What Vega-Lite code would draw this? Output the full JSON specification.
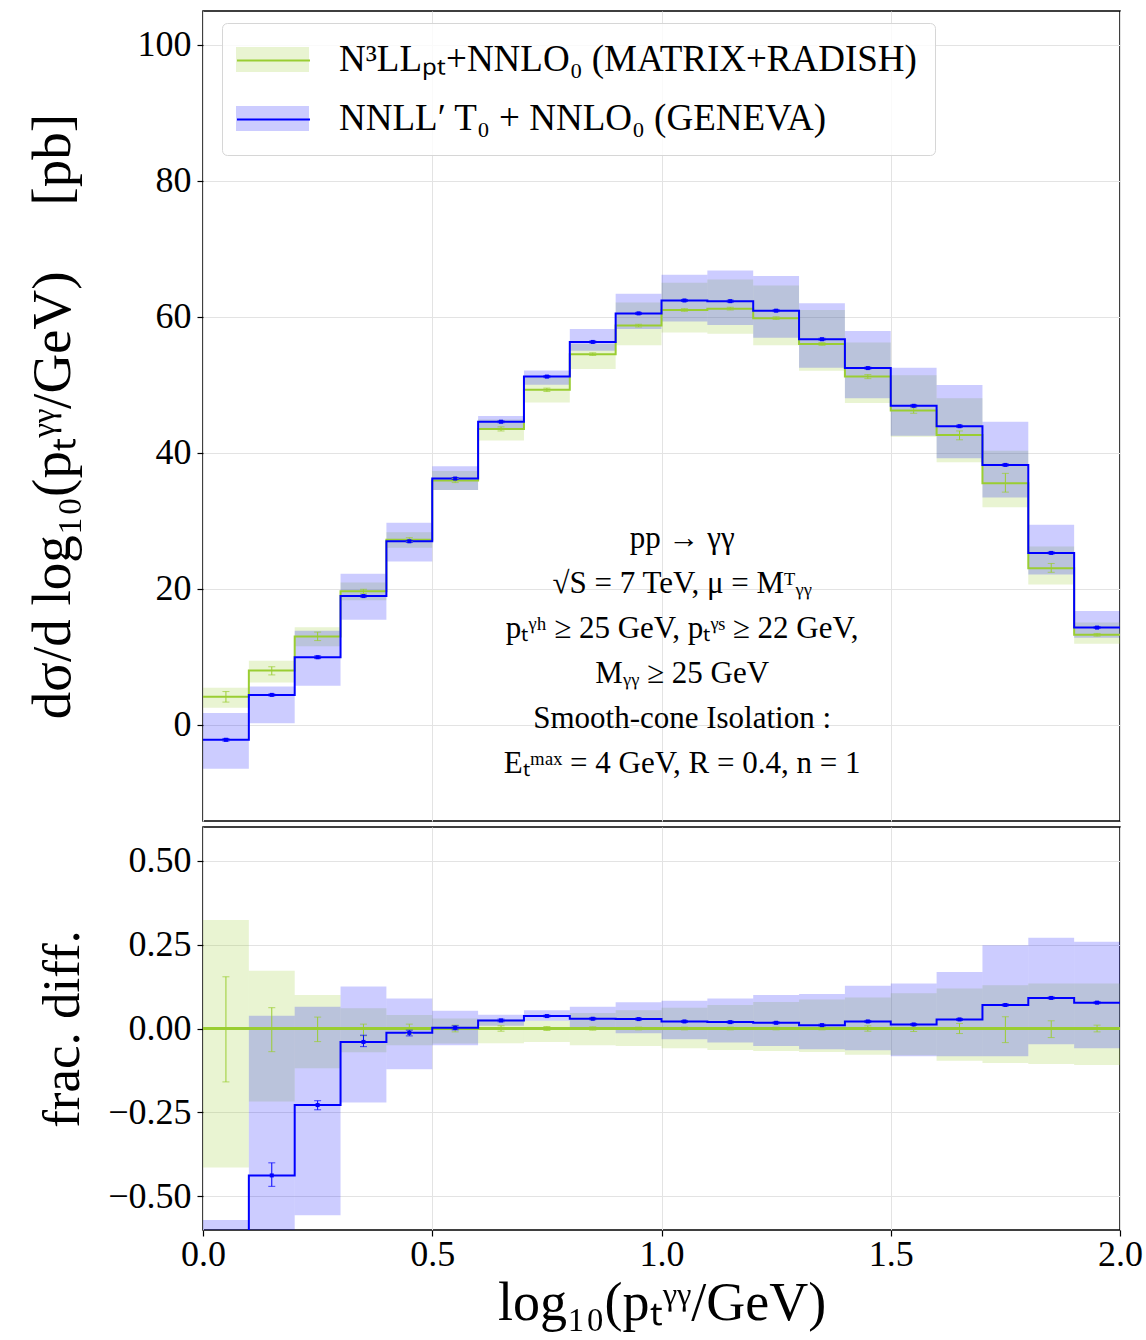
{
  "$schema": "https://vega.github.io/schema/vega-lite/v6.json",
  "padding": {"left": 24, "top": 10, "right": 3, "bottom": 5},
  "background": "white",
  "config": {
    "view": {"stroke": "black", "strokeWidth": 1.5},
    "font": "Liberation Serif",
    "axis": {
      "grid": true, "gridColor": "#e3e3e3", "gridWidth": 1, "domain": false,
      "tickColor": "black", "tickSize": 6, "tickWidth": 1.2,
      "labelFont": "Liberation Serif", "labelFontSize": 36, "labelColor": "black",
      "titleFont": "Liberation Serif", "titleFontWeight": "normal", "titleColor": "black",
      "labelPadding": 6, "labelFlush": false
    }
  },
  "datasets": {
    "bins": [
      {"x0":0.0,"x1":0.1,"xc":0.05,"g":4.1,"gl":2.45,"gh":5.4,"gel":3.3,"geh":4.85,"b":-2.25,"bl":-6.5,"bh":1.7,"bel":-2.45,"beh":-2.05,"rb":-1.55,"rbl":-2.6,"rbh":-0.57,"rgl":-0.414,"rgh":0.323,"rgel":-0.159,"rgeh":0.154,"rbel":-1.6,"rbeh":-1.5},
      {"x0":0.1,"x1":0.2,"xc":0.15,"g":7.94,"gl":6.2,"gh":9.4,"gel":7.3,"geh":8.5,"b":4.36,"bl":0.2,"bh":5.6,"bel":4.2,"beh":4.5,"rb":-0.4375,"rbl":-0.97,"rbh":0.038,"rgl":-0.217,"rgh":0.172,"rgel":-0.069,"rgeh":0.062,"rbel":-0.47,"rbeh":-0.40},
      {"x0":0.2,"x1":0.3,"xc":0.25,"g":12.94,"gl":11.5,"gh":14.3,"gel":12.35,"geh":13.6,"b":9.9,"bl":5.7,"bh":13.8,"bel":9.7,"beh":10.1,"rb":-0.228,"rbl":-0.556,"rbh":0.065,"rgl":-0.118,"rgh":0.100,"rgel":-0.039,"rgeh":0.034,"rbel":-0.242,"rbeh":-0.215},
      {"x0":0.3,"x1":0.4,"xc":0.35,"g":19.6,"gl":18.3,"gh":20.9,"gel":19.3,"geh":19.9,"b":18.9,"bl":15.4,"bh":22.2,"bel":18.75,"beh":19.05,"rb":-0.040,"rbl":-0.220,"rbh":0.125,"rgl":-0.071,"rgh":0.060,"rgel":-0.022,"rgeh":0.013,"rbel":-0.054,"rbeh":-0.020},
      {"x0":0.4,"x1":0.5,"xc":0.45,"g":27.2,"gl":26.0,"gh":28.3,"gel":26.9,"geh":27.5,"b":26.96,"bl":24.0,"bh":29.7,"bel":26.8,"beh":27.1,"rb":-0.013,"rbl":-0.121,"rbh":0.089,"rgl":-0.050,"rgh":0.040,"rgel":-0.015,"rgeh":0.013,"rbel":-0.022,"rbeh":-0.005},
      {"x0":0.5,"x1":0.6,"xc":0.55,"g":35.9,"gl":34.5,"gh":37.3,"gel":35.6,"geh":36.2,"b":36.2,"bl":34.5,"bh":38.0,"bel":36.05,"beh":36.35,"rb":0.002,"rbl":-0.050,"rbh":0.053,"rgl":-0.045,"rgh":0.030,"rgel":-0.010,"rgeh":0.010,"rbel":-0.004,"rbeh":0.008},
      {"x0":0.6,"x1":0.7,"xc":0.65,"g":43.5,"gl":41.8,"gh":44.9,"gel":43.2,"geh":43.8,"b":44.56,"bl":43.4,"bh":45.4,"bel":44.4,"beh":44.7,"rb":0.024,"rbl":0.008,"rbh":0.041,"rgl":-0.044,"rgh":0.028,"rgel":-0.008,"rgeh":0.008,"rbel":0.020,"rbeh":0.028},
      {"x0":0.7,"x1":0.8,"xc":0.75,"g":49.26,"gl":47.4,"gh":51.1,"gel":49.0,"geh":49.5,"b":51.2,"bl":50.0,"bh":52.1,"bel":51.05,"beh":51.35,"rb":0.037,"rbl":0.023,"rbh":0.054,"rgl":-0.040,"rgh":0.023,"rgel":-0.006,"rgeh":0.006,"rbel":0.034,"rbeh":0.040},
      {"x0":0.8,"x1":0.9,"xc":0.85,"g":54.5,"gl":52.3,"gh":56.0,"gel":54.3,"geh":54.7,"b":56.3,"bl":55.0,"bh":58.2,"bel":56.15,"beh":56.45,"rb":0.029,"rbl":0.0,"rbh":0.065,"rgl":-0.050,"rgh":0.046,"rgel":-0.005,"rgeh":0.005,"rbel":0.026,"rbeh":0.032},
      {"x0":0.9,"x1":1.0,"xc":0.95,"g":58.7,"gl":55.8,"gh":62.1,"gel":58.5,"geh":58.9,"b":60.5,"bl":58.2,"bh":63.4,"bel":60.35,"beh":60.65,"rb":0.028,"rbl":-0.014,"rbh":0.078,"rgl":-0.052,"rgh":0.054,"rgel":-0.004,"rgeh":0.004,"rbel":0.025,"rbeh":0.031},
      {"x0":1.0,"x1":1.1,"xc":1.05,"g":61.0,"gl":57.7,"gh":65.0,"gel":60.8,"geh":61.2,"b":62.4,"bl":59.3,"bh":66.2,"bel":62.25,"beh":62.55,"rb":0.021,"rbl":-0.032,"rbh":0.083,"rgl":-0.059,"rgh":0.062,"rgel":-0.004,"rgeh":0.004,"rbel":0.018,"rbeh":0.024},
      {"x0":1.1,"x1":1.2,"xc":1.15,"g":61.2,"gl":57.5,"gh":65.5,"gel":61.0,"geh":61.4,"b":62.3,"bl":58.8,"bh":66.8,"bel":62.15,"beh":62.45,"rb":0.019,"rbl":-0.042,"rbh":0.089,"rgl":-0.064,"rgh":0.070,"rgel":-0.004,"rgeh":0.004,"rbel":0.016,"rbeh":0.022},
      {"x0":1.2,"x1":1.3,"xc":1.25,"g":59.8,"gl":55.8,"gh":64.6,"gel":59.6,"geh":60.0,"b":60.9,"bl":56.9,"bh":66.0,"bel":60.75,"beh":61.05,"rb":0.017,"rbl":-0.052,"rbh":0.100,"rgl":-0.067,"rgh":0.079,"rgel":-0.004,"rgeh":0.004,"rbel":0.014,"rbeh":0.020},
      {"x0":1.3,"x1":1.4,"xc":1.35,"g":56.0,"gl":52.06,"gh":61.0,"gel":55.8,"geh":56.2,"b":56.7,"bl":52.5,"bh":62.0,"bel":56.55,"beh":56.85,"rb":0.010,"rbl":-0.062,"rbh":0.103,"rgl":-0.070,"rgh":0.086,"rgel":-0.004,"rgeh":0.004,"rbel":0.007,"rbeh":0.013},
      {"x0":1.4,"x1":1.5,"xc":1.45,"g":51.2,"gl":47.3,"gh":56.2,"gel":50.9,"geh":51.5,"b":52.45,"bl":48.0,"bh":57.9,"bel":52.3,"beh":52.6,"rb":0.021,"rbl":-0.065,"rbh":0.127,"rgl":-0.078,"rgh":0.092,"rgel":-0.008,"rgeh":0.008,"rbel":0.018,"rbeh":0.024},
      {"x0":1.5,"x1":1.6,"xc":1.55,"g":46.2,"gl":42.35,"gh":51.4,"gel":45.8,"geh":46.6,"b":46.9,"bl":42.5,"bh":52.5,"bel":46.75,"beh":47.05,"rb":0.012,"rbl":-0.083,"rbh":0.134,"rgl":-0.080,"rgh":0.105,"rgel":-0.009,"rgeh":0.009,"rbel":0.009,"rbeh":0.015},
      {"x0":1.6,"x1":1.7,"xc":1.65,"g":42.6,"gl":38.6,"gh":48.0,"gel":41.9,"geh":43.2,"b":43.9,"bl":39.2,"bh":49.95,"bel":43.75,"beh":44.05,"rb":0.027,"rbl":-0.083,"rbh":0.168,"rgl":-0.096,"rgh":0.119,"rgel":-0.015,"rgeh":0.015,"rbel":0.024,"rbeh":0.030},
      {"x0":1.7,"x1":1.8,"xc":1.75,"g":35.5,"gl":31.96,"gh":40.3,"gel":34.2,"geh":36.96,"b":38.2,"bl":33.4,"bh":44.56,"bel":38.05,"beh":38.35,"rb":0.070,"rbl":-0.083,"rbh":0.248,"rgl":-0.103,"rgh":0.129,"rgel":-0.042,"rgeh":0.035,"rbel":0.067,"rbeh":0.073},
      {"x0":1.8,"x1":1.9,"xc":1.85,"g":23.0,"gl":20.6,"gh":26.2,"gel":22.4,"geh":23.7,"b":25.25,"bl":22.06,"bh":29.4,"bel":25.1,"beh":25.4,"rb":0.091,"rbl":-0.047,"rbh":0.270,"rgl":-0.106,"rgh":0.134,"rgel":-0.027,"rgeh":0.023,"rbel":0.088,"rbeh":0.094},
      {"x0":1.9,"x1":2.0,"xc":1.95,"g":13.2,"gl":11.9,"gh":15.0,"gel":13.0,"geh":13.4,"b":14.26,"bl":12.75,"bh":16.7,"bel":14.15,"beh":14.4,"rb":0.077,"rbl":-0.059,"rbh":0.258,"rgl":-0.109,"rgh":0.134,"rgel":-0.010,"rgeh":0.010,"rbel":0.074,"rbeh":0.080}
    ]
  },
  "spacing": 4,
  "resolve": {
    "scale": {"fill": "independent", "stroke": "independent"},
    "legend": {"fill": "independent", "stroke": "independent"}
  },
  "vconcat": [
    {
      "width": 917,
      "height": 810,
      "data": {"name": "bins"},
      "layer": [
        {
          "mark": {"type": "rect"},
          "encoding": {
            "x": {"field": "x0", "type": "quantitative", "title": null,
                  "scale": {"domain": [0, 2], "nice": false, "zero": false},
                  "axis": {"labels": false, "ticks": false, "values": [0, 0.5, 1, 1.5, 2]}},
            "x2": {"field": "x1"},
            "y": {"field": "gl", "type": "quantitative", "title": "dσ/d log₁₀(pₜᵞᵞ/GeV)\u2003\u2009[pb]",
                  "scale": {"domain": [-14.2, 105], "nice": false, "zero": false},
                  "axis": {"values": [0, 20, 40, 60, 80, 100], "format": "d", "titleFontSize": 55,
                           "titleX": -151, "titleBaseline": "middle", "titleAngle": -90}},
            "y2": {"field": "gh"},
            "fill": {"datum": "g", "type": "nominal",
                     "scale": {"domain": ["g", "b"], "range": ["rgba(154,205,50,0.22)", "rgba(0,0,255,0.2)"]},
                     "legend": {"orient": "none", "legendX": 19, "legendY": 12, "title": null, "direction": "vertical",
                                "symbolType": "M-2,-0.68H2V0.68H-2Z", "symbolSize": 1332, "symbolOffset": 14,
                                "symbolStrokeWidth": 0,
                                "labelExpr": "datum.value == 'g' ? 'N³LLₚₜ+NNLO₀ (MATRIX+RADISH)' : 'NNLL′ T₀ + NNLO₀ (GENEVA)'",
                                "labelFontSize": 37, "labelFont": "Liberation Serif", "labelColor": "black",
                                "labelOffset": 48, "labelLimit": 0, "rowPadding": 21, "padding": 18,
                                "strokeColor": "#d6d6d6", "fillColor": "rgba(255,255,255,0.8)", "cornerRadius": 5}}
          }
        },
        {
          "mark": {"type": "rect"},
          "encoding": {
            "x": {"field": "x0", "type": "quantitative", "title": null},
            "x2": {"field": "x1"},
            "y": {"field": "bl", "type": "quantitative", "title": "dσ/d log₁₀(pₜᵞᵞ/GeV)\u2003\u2009[pb]"},
            "y2": {"field": "bh"},
            "fill": {"datum": "b", "type": "nominal"}
          }
        },
        {
          "transform": [{"fold": ["x0", "x1"], "as": ["edge", "xe"]}],
          "mark": {"type": "line", "strokeWidth": 2},
          "encoding": {
            "x": {"field": "xe", "type": "quantitative", "title": null},
            "y": {"field": "g", "type": "quantitative", "title": "dσ/d log₁₀(pₜᵞᵞ/GeV)\u2003\u2009[pb]"},
            "order": [{"field": "xc", "type": "quantitative"}, {"field": "edge", "type": "nominal"}],
            "stroke": {"datum": "gl", "type": "nominal",
                       "scale": {"domain": ["gl", "bl"], "range": ["#9acd32", "#0000ff"]},
                       "legend": {"orient": "none", "legendX": 19, "legendY": 12, "title": null, "direction": "vertical",
                                  "symbolType": "M-2,0H2", "symbolSize": 1332, "symbolOffset": 14,
                                  "symbolStrokeWidth": 2, "symbolFillColor": "transparent",
                                  "labelExpr": "datum.value == 'gl' ? 'N³LLₚₜ+NNLO₀ (MATRIX+RADISH)' : 'NNLL′ T₀ + NNLO₀ (GENEVA)'",
                                  "labelFontSize": 37, "labelFont": "Liberation Serif", "labelColor": "transparent",
                                  "labelOffset": 48, "labelLimit": 0, "rowPadding": 21, "padding": 18}}
          }
        },
        {
          "transform": [{"fold": ["x0", "x1"], "as": ["edge", "xe"]}],
          "mark": {"type": "line", "strokeWidth": 2},
          "encoding": {
            "x": {"field": "xe", "type": "quantitative", "title": null},
            "y": {"field": "b", "type": "quantitative", "title": "dσ/d log₁₀(pₜᵞᵞ/GeV)\u2003\u2009[pb]"},
            "order": [{"field": "xc", "type": "quantitative"}, {"field": "edge", "type": "nominal"}],
            "stroke": {"datum": "bl", "type": "nominal"}
          }
        },
        {
          "mark": {"type": "errorbar", "ticks": {"size": 7}, "color": "#9acd32", "thickness": 1},
          "encoding": {
            "x": {"field": "xc", "type": "quantitative", "title": null},
            "y": {"field": "gel", "type": "quantitative", "title": "dσ/d log₁₀(pₜᵞᵞ/GeV)\u2003\u2009[pb]"},
            "y2": {"field": "geh"}
          }
        },
        {
          "mark": {"type": "errorbar", "ticks": {"size": 7}, "color": "#0000ff", "thickness": 1},
          "encoding": {
            "x": {"field": "xc", "type": "quantitative", "title": null},
            "y": {"field": "bel", "type": "quantitative", "title": "dσ/d log₁₀(pₜᵞᵞ/GeV)\u2003\u2009[pb]"},
            "y2": {"field": "beh"}
          }
        },
        {
          "mark": {"type": "point", "shape": "square", "size": 16, "filled": true, "color": "#0000ff", "opacity": 1},
          "encoding": {
            "x": {"field": "xc", "type": "quantitative", "title": null},
            "y": {"field": "b", "type": "quantitative", "title": "dσ/d log₁₀(pₜᵞᵞ/GeV)\u2003\u2009[pb]"}
          }
        },
        {
          "data": {"values": [{}]},
          "mark": {"type": "text", "align": "center", "baseline": "top", "fontSize": 31, "lineHeight": 45,
                   "font": "Liberation Serif", "color": "black"},
          "encoding": {
            "x": {"datum": 1.045, "type": "quantitative"},
            "y": {"datum": 29.5, "type": "quantitative"},
            "text": {"value": ["pp → γγ", "√S = 7 TeV, μ = Mᵀᵧᵧ", "pₜᵞʰ ≥ 25 GeV,  pₜᵞˢ ≥ 22 GeV,", "Mᵧᵧ ≥ 25 GeV", "Smooth-cone Isolation :", "Eₜᵐᵃˣ = 4 GeV,   R = 0.4,  n = 1"]}
          }
        }
      ]
    },
    {
      "width": 917,
      "height": 403,
      "data": {"name": "bins"},
      "layer": [
        {
          "mark": {"type": "rect", "color": "rgba(154,205,50,0.22)", "clip": true},
          "encoding": {
            "x": {"field": "x0", "type": "quantitative", "title": "log₁₀(pₜᵞᵞ/GeV)",
                  "scale": {"domain": [0, 2], "nice": false, "zero": false},
                  "axis": {"values": [0, 0.5, 1, 1.5, 2], "format": ".1f", "titleFontSize": 54, "titlePadding": 4, "labelPadding": 1}},
            "x2": {"field": "x1"},
            "y": {"field": "rgl", "type": "quantitative", "title": "frac.  diff.",
                  "scale": {"domain": [-0.6, 0.6], "nice": false, "zero": false},
                  "axis": {"values": [-0.5, -0.25, 0, 0.25, 0.5], "format": ".2f", "titleFontSize": 53,
                           "titleX": -141, "titleBaseline": "middle", "titleAngle": -90}},
            "y2": {"field": "rgh"}
          }
        },
        {
          "mark": {"type": "rect", "color": "rgba(0,0,255,0.2)", "clip": true},
          "encoding": {
            "x": {"field": "x0", "type": "quantitative", "title": "log₁₀(pₜᵞᵞ/GeV)"},
            "x2": {"field": "x1"},
            "y": {"field": "rbl", "type": "quantitative", "title": "frac.  diff."},
            "y2": {"field": "rbh"}
          }
        },
        {
          "mark": {"type": "rule", "color": "#9acd32", "strokeWidth": 2},
          "encoding": {
            "y": {"datum": 0, "type": "quantitative", "title": "frac.  diff."}
          }
        },
        {
          "transform": [{"fold": ["x0", "x1"], "as": ["edge", "xe"]}],
          "mark": {"type": "line", "strokeWidth": 2, "color": "#0000ff", "clip": true},
          "encoding": {
            "x": {"field": "xe", "type": "quantitative", "title": "log₁₀(pₜᵞᵞ/GeV)"},
            "y": {"field": "rb", "type": "quantitative", "title": "frac.  diff."},
            "order": [{"field": "xc", "type": "quantitative"}, {"field": "edge", "type": "nominal"}]
          }
        },
        {
          "mark": {"type": "errorbar", "ticks": {"size": 7}, "color": "#9acd32", "thickness": 1, "clip": true},
          "encoding": {
            "x": {"field": "xc", "type": "quantitative", "title": "log₁₀(pₜᵞᵞ/GeV)"},
            "y": {"field": "rgel", "type": "quantitative", "title": "frac.  diff."},
            "y2": {"field": "rgeh"}
          }
        },
        {
          "mark": {"type": "errorbar", "ticks": {"size": 7}, "color": "#0000ff", "thickness": 1, "clip": true},
          "encoding": {
            "x": {"field": "xc", "type": "quantitative", "title": "log₁₀(pₜᵞᵞ/GeV)"},
            "y": {"field": "rbel", "type": "quantitative", "title": "frac.  diff."},
            "y2": {"field": "rbeh"}
          }
        },
        {
          "mark": {"type": "point", "shape": "square", "size": 16, "filled": true, "color": "#0000ff", "opacity": 1, "clip": true},
          "encoding": {
            "x": {"field": "xc", "type": "quantitative", "title": "log₁₀(pₜᵞᵞ/GeV)"},
            "y": {"field": "rb", "type": "quantitative", "title": "frac.  diff."}
          }
        }
      ]
    }
  ]
}
